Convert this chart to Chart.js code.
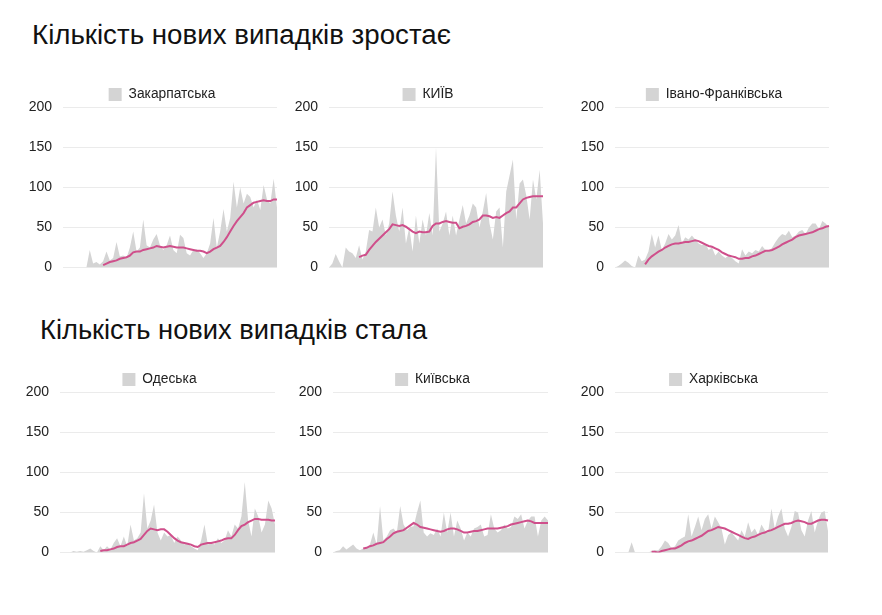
<!DOCTYPE html>
<html>
<head>
<meta charset="utf-8">
<script src="https://cdn.jsdelivr.net/npm/chart.js@4/dist/chart.umd.min.js"></script>
<style>
  body { margin: 0; background: #fff; font-family: "Liberation Sans", Arial, sans-serif; }
  #page { position: relative; width: 882px; height: 615px; overflow: hidden; }
  h2 { position: absolute; margin: 0; font-weight: normal; color: #111; white-space: nowrap; }
  .box { position: absolute; }
</style>
</head>
<body>
<div id="page">
  <h2 style="left:32px; top:19px; font-size:27.7px;">Кількість нових випадків зростає</h2>
  <h2 style="left:40px; top:314px; font-size:27.3px;">Кількість нових випадків стала</h2>

  <div class="box" style="left:0px; top:80px; width:280px; height:207px;"><canvas id="c1"></canvas></div>
  <div class="box" style="left:280px; top:80px; width:266px; height:207px;"><canvas id="c2"></canvas></div>
  <div class="box" style="left:560px; top:80px; width:272px; height:207px;"><canvas id="c3"></canvas></div>
  <div class="box" style="left:0px; top:365px; width:278px; height:207px;"><canvas id="c4"></canvas></div>
  <div class="box" style="left:285px; top:365px; width:266px; height:207px;"><canvas id="c5"></canvas></div>
  <div class="box" style="left:565px; top:365px; width:266px; height:207px;"><canvas id="c6"></canvas></div>
</div>

<script>
// 65 days per region; daily new cases (grey area) and rolling average (pink line)
var regions = ["Закарпатська", "КИЇВ", "Івано-Франківська", "Одеська", "Київська", "Харківська"];
var yTicks = [0, 50, 100, 150, 200];

var dailyZak = [0,0,0,0,0,0,0,0,22,5,7,4,8,20,9,12,32,14,15,12,25,45,20,25,60,28,25,35,42,28,22,28,40,22,18,41,37,18,15,22,23,18,12,18,30,62,25,45,73,45,62,107,75,100,80,92,88,75,85,72,103,85,80,111,75];
var avgZak = [null,null,null,null,null,null,null,null,null,null,null,null,3,5,7,8,9,11,12,13,15,19,20,20,22,23,24,25,27,26,25,26,27,26,25,25,25,24,23,22,21,21,20,18,20,23,25,27,32,38,45,52,58,63,68,75,78,81,82,83,84,83,83,85,85];

var dailyKyiv = [0,5,17,8,0,25,20,18,12,28,10,20,47,45,75,50,60,40,55,95,65,45,75,30,50,20,65,30,60,40,68,40,150,45,55,70,40,65,40,60,78,55,65,80,75,50,70,93,55,35,70,75,25,95,115,135,60,105,110,90,60,110,85,122,55];
var avgKyiv = [null,null,null,null,null,null,null,null,null,13,15,16,22,27,32,36,40,44,48,54,53,52,53,51,48,45,43,45,44,44,45,52,55,55,57,58,57,56,56,49,51,52,54,57,58,60,65,65,64,62,63,62,65,68,70,75,75,80,85,87,88,89,89,89,89];

var dailyIF = [0,2,5,9,6,2,0,15,8,10,20,42,25,40,22,30,42,35,40,53,30,38,35,40,35,30,28,30,22,25,15,20,15,12,15,12,8,5,23,15,20,18,22,20,27,22,20,25,32,38,42,40,46,38,40,45,47,42,50,55,55,48,58,55,50];
var avgIF = [null,null,null,null,null,null,null,null,null,4,10,14,17,20,22,25,27,29,30,30,31,32,32,33,34,33,31,29,27,26,24,22,19,17,15,14,13,11,11,12,12,14,15,17,19,21,21,22,24,26,29,31,33,35,38,40,41,42,43,44,46,48,49,51,52];

var dailyOd = [0,0,0,0,2,1,2,1,3,5,2,0,8,3,8,4,12,18,8,20,8,35,15,18,25,74,30,40,60,25,15,25,20,22,12,20,15,10,12,8,5,3,15,35,10,12,10,18,12,15,28,20,35,30,45,88,40,20,55,45,25,35,65,55,35];
var avgOd = [null,null,null,null,null,null,null,null,null,null,null,null,2,3,3,4,5,7,8,8,10,12,13,15,17,22,27,30,29,28,29,29,26,22,18,15,13,12,11,10,8,7,10,11,12,12,13,14,15,17,18,18,22,28,33,35,38,40,42,42,41,41,41,40,40];

var dailyKyivObl = [0,2,3,8,4,7,10,5,3,5,6,10,25,10,58,15,20,28,30,25,58,35,28,32,33,50,65,25,20,24,22,30,20,50,25,50,20,40,30,15,25,20,30,32,35,20,22,48,30,25,28,35,30,32,45,42,48,30,40,45,45,20,40,45,40];
var avgKyivObl = [null,null,null,null,null,null,null,null,null,5,6,8,9,11,12,13,17,20,24,26,27,28,31,34,37,35,32,31,30,29,28,27,26,27,29,30,30,29,27,25,25,26,27,27,28,29,30,30,30,30,31,32,33,35,36,37,38,39,40,39,37,37,37,37,37];

var dailyKh = [0,0,0,0,0,13,0,0,0,0,0,2,3,3,8,15,12,5,8,15,18,20,48,20,32,45,28,42,48,30,45,38,30,10,22,25,20,15,28,20,38,25,30,22,35,28,25,55,30,45,55,30,20,32,52,50,28,20,40,52,25,40,50,52,27];
var avgKh = [null,null,null,null,null,null,null,null,null,null,null,1,1,0,2,3,4,5,5,7,9,12,14,15,17,19,21,24,27,28,30,32,31,30,28,26,24,22,20,18,17,19,20,22,24,25,27,28,30,32,34,36,36,37,39,40,39,38,36,36,38,40,41,41,40];

var days = dailyZak.map(function (v, i) { return i + 1; });

// the legend in the original sits a little left of the plot centre and close to it
var nudgeLegend = {
  id: "nudgeLegend",
  afterLayout: function (chart) {
    if (chart.legend) {
      chart.legend.left -= 8;
      chart.legend.right -= 8;
      chart.legend.top += 4;
      chart.legend.bottom += 4;
    }
  }
};

function makeChart(id, name, daily, avg, axisWidth) {
  var ctx = document.getElementById(id);
  return new Chart(ctx, {
    type: "line",
    data: {
      labels: days,
      datasets: [
        {
          label: "avg",
          data: avg,
          borderColor: "#cf4f8b",
          borderWidth: 2,
          pointRadius: 0,
          fill: false,
          tension: 0
        },
        {
          label: name,
          data: daily,
          backgroundColor: "#d4d4d4",
          borderColor: "#d4d4d4",
          borderWidth: 0,
          pointRadius: 0,
          fill: "origin",
          tension: 0
        }
      ]
    },
    options: {
      responsive: true,
      maintainAspectRatio: false,
      animation: false,
      layout: { padding: { top: 0, right: 3, bottom: 4, left: 0 } },
      plugins: {
        tooltip: { enabled: false },
        legend: {
          position: "top",
          fullSize: false,
          labels: {
            filter: function (item) { return item.text !== "avg"; },
            boxWidth: 13,
            boxHeight: 13,
            padding: 3.5,
            color: "#222",
            font: { family: "Liberation Sans, Arial, sans-serif", size: 13.8 }
          }
        }
      },
      scales: {
        x: { display: false },
        y: {
          min: 0,
          max: 200,
          afterBuildTicks: function (axis) {
            axis.ticks = yTicks.map(function (v) { return { value: v }; });
          },
          afterFit: function (axis) { axis.width = axisWidth; },
          border: { display: false },
          grid: { color: "#ebebeb", drawTicks: false },
          ticks: {
            padding: 11,
            color: "#222",
            font: { family: "Liberation Sans, Arial, sans-serif", size: 14 }
          }
        }
      }
    },
    plugins: [nudgeLegend]
  });
}

makeChart("c1", regions[0], dailyZak, avgZak, 63);
makeChart("c2", regions[1], dailyKyiv, avgKyiv, 49);
makeChart("c3", regions[2], dailyIF, avgIF, 55);
makeChart("c4", regions[3], dailyOd, avgOd, 60);
makeChart("c5", regions[4], dailyKyivObl, avgKyivObl, 48);
makeChart("c6", regions[5], dailyKh, avgKh, 50);
</script>
</body>
</html>
